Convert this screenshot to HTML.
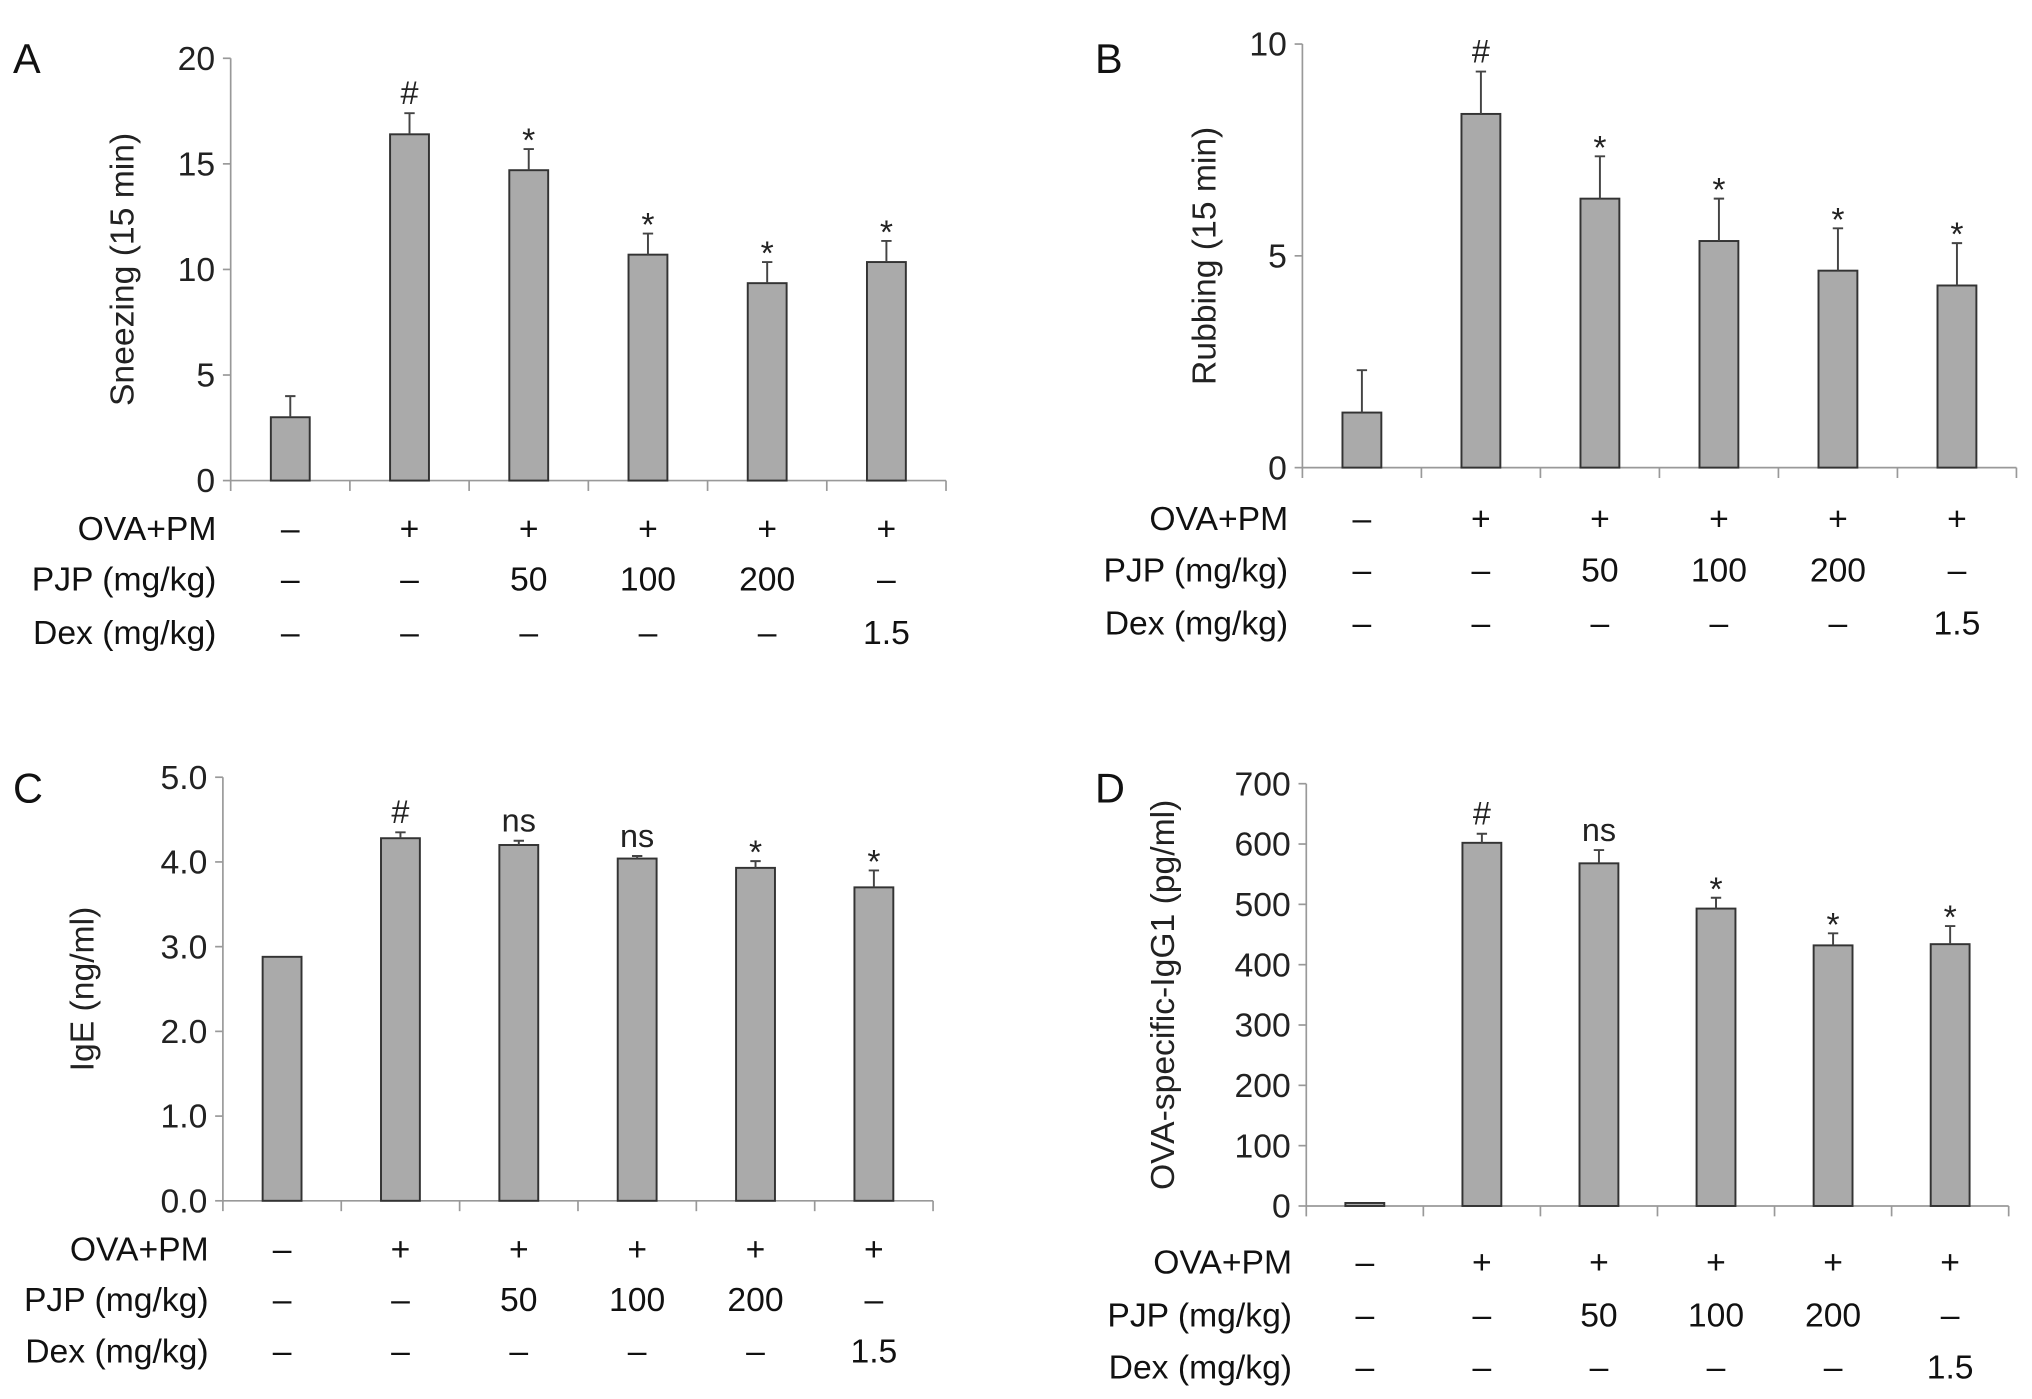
<!DOCTYPE html>
<html><head><meta charset="utf-8"><style>
html,body{margin:0;padding:0;background:#fff;}
svg{display:block;font-family:"Liberation Sans",Arial,sans-serif;}
</style></head><body>
<svg id="fig" width="2032" height="1399" viewBox="0 0 1568 1080" preserveAspectRatio="none"></svg>
<script>
// Panel A data
const aValues=[3,16.4,14.7,10.7,9.35,10.35];
const aErrors=[1,1,1,1,1,1];
const aMarks=['','#','*','*','*','*'];
const aTicks=[0,5,10,15,20];
// Panel B data
const bValues=[1.3,8.35,6.35,5.35,4.65,4.3];
const bErrors=[1,1,1,1,1,1];
const bMarks=['','#','*','*','*','*'];
const bTicks=[0,5,10];
// Panel C data
const cValues=[2.88,4.28,4.2,4.04,3.93,3.7];
const cErrors=[0,0.07,0.05,0.03,0.08,0.2];
const cMarks=['','#','ns','ns','*','*'];
const cTicks=[0,1,2,3,4,5];
// Panel D data
const dValues=[5,602,568,493,432,434];
const dErrors=[0,15,22,18,20,30];
const dMarks=['','#','ns','*','*','*'];
const dTicks=[0,100,200,300,400,500,600,700];
// Treatment table
const rowLabels=['OVA+PM','PJP (mg/kg)','Dex (mg/kg)'];
const ovaRow=['–','+','+','+','+','+'];
const pjpRow=['–','–','50','100','200','–'];
const dexRow=['–','–','–','–','–','1.5'];

const NS='http://www.w3.org/2000/svg';
const svg=document.getElementById('fig');
function mk(tag,attrs,parent,text){const e=document.createElementNS(NS,tag);for(const k in attrs)e.setAttribute(k,attrs[k]);if(text!==undefined)e.textContent=text;(parent||svg).appendChild(e);return e;}

const panels=[
 {id:'a',letter:'A',lx:10,ly:33,ax:178,top:45,y0:371,end:730,max:20,vals:aValues,errs:aErrors,marks:aMarks,ticks:aTicks,dec:0,title:'Sneezing (15 min)',tx:103,rows:[408,447,488],bw:30},
 {id:'b',letter:'B',lx:845,ly:33,ax:1005,top:34,y0:361,end:1556,max:10,vals:bValues,errs:bErrors,marks:bMarks,ticks:bTicks,dec:0,title:'Rubbing (15 min)',tx:938,rows:[400,440,481],bw:30},
 {id:'c',letter:'C',lx:10,ly:596,ax:172,top:600,y0:927,end:720,max:5,vals:cValues,errs:cErrors,marks:cMarks,ticks:cTicks,dec:1,title:'IgE (ng/ml)',tx:72,rows:[964,1003,1043],bw:30},
 {id:'d',letter:'D',lx:845,ly:596,ax:1008,top:605,y0:931,end:1550,max:700,vals:dValues,errs:dErrors,marks:dMarks,ticks:dTicks,dec:0,title:'OVA-specific-IgG1 (pg/ml)',tx:906,rows:[974,1015,1055],bw:30}
];
const rows=[ovaRow,pjpRow,dexRow];

panels.forEach(p=>{
  const g=mk('g',{});
  
  
  const y=v=>p.y0-(v/p.max)*(p.y0-p.top);
  const step=(p.end-p.ax)/6;
  const cx=i=>p.ax+step*(i+0.5);
  const L=mk('text',{x:p.lx,y:p.ly,'font-size':32,'dominant-baseline':'hanging',fill:'#111'},g,p.letter);
  
  
  const ya=mk('line',{x1:p.ax,y1:p.top,x2:p.ax,y2:p.y0+8,stroke:'#999','stroke-width':1.3},g);
  
  
  const xa=mk('line',{x1:p.ax,y1:p.y0,x2:p.end,y2:p.y0,stroke:'#999','stroke-width':1.3},g);
  
  
  for(let i=1;i<=6;i++){mk('line',{x1:p.ax+step*i,y1:p.y0,x2:p.ax+step*i,y2:p.y0+8,stroke:'#999','stroke-width':1.3},g);}
  p.ticks.forEach(t=>{
    mk('line',{x1:p.ax-6,y1:y(t),x2:p.ax,y2:y(t),stroke:'#999','stroke-width':1.3},g);
    const tl=mk('text',{x:p.ax-12,y:y(t)+9,'font-size':26,'text-anchor':'end',fill:'#222'},g,t.toFixed(p.dec));
    
    
  });
  const cy=(p.top+p.y0)/2;
  const tt=mk('text',{x:p.tx,y:cy,'font-size':26,'text-anchor':'middle',fill:'#222',transform:`rotate(-90 ${p.tx} ${cy})`},g,p.title);
  
  
  p.vals.forEach((v,i)=>{
    const b=mk('rect',{x:cx(i)-p.bw/2,y:y(v),width:p.bw,height:p.y0-y(v),fill:'#aaaaaa',stroke:'#333','stroke-width':1.5},g);
    
    
    const e=p.errs[i];
    if(e>0){
      const eb=mk('path',{d:`M${cx(i)} ${y(v)} V${y(v+e)} M${cx(i)-4} ${y(v+e)} H${cx(i)+4}`,stroke:'#444','stroke-width':1.5,fill:'none'},g);
      
      
    }
    if(p.marks[i]){
      const m=p.marks[i];
      const isStar=m==='*';
      const fs=isStar?26:25;
      const my=y(v+e)+(isStar?2:-7);
      const mt=mk('text',{x:cx(i),y:my,'font-size':fs,'text-anchor':'middle',fill:'#222'},g,m);
      
      
    }
  });
  rows.forEach((r,ri)=>{
    const rl=mk('text',{x:p.ax-11,y:p.rows[ri]+9,'font-size':26,'text-anchor':'end',fill:'#111'},g,rowLabels[ri]);
    
    
    r.forEach((s,i)=>{
      const c=mk('text',{x:cx(i),y:p.rows[ri]+9,'font-size':26,'text-anchor':'middle',fill:'#111'},g,s);
      
      
    });
  });
});
</script>
</body></html>
